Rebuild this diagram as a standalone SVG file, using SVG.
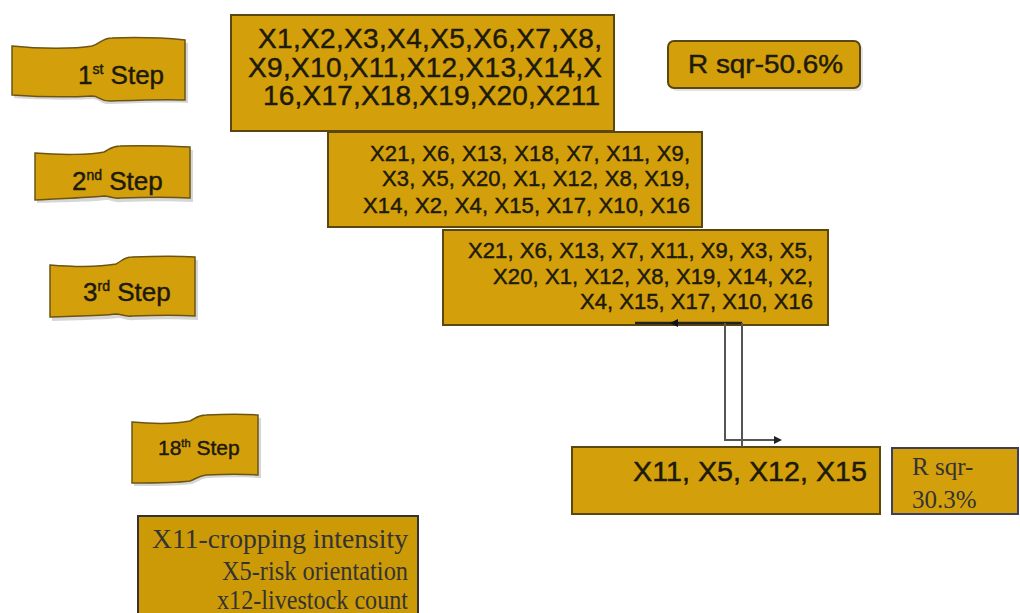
<svg xmlns="http://www.w3.org/2000/svg" width="1020" height="613" viewBox="0 0 1020 613">
<defs>
<style>
.box{fill:#D3A00C;stroke:#5a4710;stroke-width:2}
.flag{fill:#D3A00C;stroke:#6b5414;stroke-width:1.5}
.shadow{fill:#bbbbbb;opacity:0.6}
.sans{font-family:"Liberation Sans",Arial,sans-serif;fill:#1e1a08;stroke:#1e1a08;stroke-width:0.45}
.serif{font-family:"Liberation Serif","Times New Roman",serif;fill:#333333}
.conn{fill:none;stroke:#555555;stroke-width:2}
</style>
<marker id="arr" markerWidth="8" markerHeight="8" refX="6" refY="4" orient="auto" markerUnits="userSpaceOnUse">
<path d="M0,0 L8,4 L0,8 Z" fill="#222"/>
</marker>
</defs>
<rect width="1020" height="613" fill="#ffffff"/>

<g id="step1">
<path class="shadow" d="M14,49 C40,52 75,52 92,49 C100,47 102,41 112,41 C140,40 165,41 188,43 L188,103 C165,102 140,103 112,104 C100,105 100,99 92,99 C75,100 40,100 14,98 Z"/>
<path class="flag" d="M12,46 C40,49 75,49 92,46 C100,44 102,38 112,38 C140,37 165,38 185,40 L185,100 C165,99 140,100 112,101 C100,102 100,96 92,96 C75,97 40,97 12,95 Z"/>
<text class="sans" x="78" y="84" font-size="26" stroke-width="0.6">1<tspan font-size="14" dy="-10">st</tspan><tspan dy="10"> Step</tspan></text>
</g>

<g id="step2">
<path class="shadow" d="M37,156 C60,158 90,158 106,155 C112,152 114,149 122,149 C150,148 170,149 193,150 L193,202 C170,201 150,201 122,202 C114,203 112,200 106,200 C90,202 60,202 37,203 Z"/>
<path class="flag" d="M35,153 C60,155 90,155 104,152 C110,149 112,146 120,146 C150,145 170,146 190,147 L190,198 C170,197 150,197 120,198 C112,199 110,196 104,196 C90,198 60,198 35,200 Z"/>
<text class="sans" x="72" y="190" font-size="26" stroke-width="0.6">2<tspan font-size="14" dy="-10">nd</tspan><tspan dy="10"> Step</tspan></text>
</g>

<g id="step3">
<path class="shadow" d="M52,268 C75,270 100,270 118,267 C124,264 126,260 134,260 C160,259 180,259 198,260 L198,320 C180,319 160,319 134,320 C126,321 124,318 118,318 C100,320 75,320 52,321 Z"/>
<path class="flag" d="M50,265 C75,267 100,267 116,264 C122,261 124,257 132,257 C160,256 180,256 195,257 L195,316 C180,315 160,315 132,316 C124,317 122,314 116,314 C100,316 75,316 50,317 Z"/>
<text class="sans" x="83" y="301" font-size="26" stroke-width="0.6">3<tspan font-size="14" dy="-10">rd</tspan><tspan dy="10"> Step</tspan></text>
</g>

<g id="step18">
<path class="shadow" d="M134,425 C155,427 175,427 192,424 C198,421 200,418 208,418 C225,417 245,417 261,418 L261,478 C245,477 225,477 208,478 C200,479 198,482 192,484 C175,486 155,486 134,486 Z"/>
<path class="flag" d="M132,422 C155,424 175,424 190,421 C196,418 198,415 206,415 C225,414 245,414 258,415 L258,475 C245,474 225,474 206,475 C198,476 196,479 190,481 C175,483 155,483 132,483 Z"/>
<text class="sans" x="158" y="455" font-size="21" stroke-width="0.5">18<tspan font-size="11" dy="-8">th</tspan><tspan dy="8"> Step</tspan></text>
</g>

<g id="box1">
<rect class="box" x="231" y="15" width="383" height="116"/>
<text class="sans" font-size="28" lengthAdjust="spacingAndGlyphs">
<tspan x="258" y="48" textLength="344">X1,X2,X3,X4,X5,X6,X7,X8,</tspan>
<tspan x="248" y="77" textLength="354">X9,X10,X11,X12,X13,X14,X</tspan>
<tspan x="263" y="105" textLength="337">16,X17,X18,X19,X20,X211</tspan>
</text>
</g>

<g id="rsq1">
<rect x="671" y="44" width="192" height="47" rx="6" fill="#c8c8c8" opacity="0.5"/>
<rect class="box" x="668" y="41" width="192" height="47" rx="6"/>
<text class="sans" x="688" y="73" font-size="25" textLength="155" lengthAdjust="spacingAndGlyphs">R sqr-50.6%</text>
</g>

<g id="box2">
<rect class="box" x="328" y="132" width="374" height="95"/>
<text class="sans" font-size="22" lengthAdjust="spacingAndGlyphs">
<tspan x="370" y="161" textLength="320">X21, X6, X13, X18, X7, X11, X9,</tspan>
<tspan x="382" y="186" textLength="308">X3, X5, X20, X1, X12, X8, X19,</tspan>
<tspan x="363" y="213" textLength="327">X14, X2, X4, X15, X17, X10, X16</tspan>
</text>
</g>

<g id="box3">
<rect class="box" x="443" y="230" width="385" height="95"/>
<text class="sans" font-size="22" lengthAdjust="spacingAndGlyphs">
<tspan x="468" y="258" textLength="345">X21, X6, X13, X7, X11, X9, X3, X5,</tspan>
<tspan x="493" y="284" textLength="320">X20, X1, X12, X8, X19, X14, X2,</tspan>
<tspan x="580" y="309" textLength="233">X4, X15, X17, X10, X16</tspan>
</text>
</g>

<g id="box4">
<rect class="box" x="572" y="447" width="308" height="67"/>
<text class="sans" x="633" y="481" font-size="27" textLength="234" lengthAdjust="spacingAndGlyphs">X11, X5, X12, X15</text>
</g>

<g id="rsq2">
<rect x="892" y="448" width="126" height="66" fill="#D3A00C" stroke="#3b3f5c" stroke-width="2"/>
<text class="serif" font-size="25">
<tspan x="912" y="475">R sqr-</tspan>
<tspan x="912" y="508">30.3%</tspan>
</text>
</g>

<g id="legend">
<rect x="138" y="516" width="280" height="100" fill="#CC9A06" stroke="#333333" stroke-width="2"/>
<text class="serif" font-size="27" x="152" y="548" textLength="256" lengthAdjust="spacingAndGlyphs">X11-cropping intensity</text>
<text class="serif" font-size="27" x="222" y="580" textLength="186" lengthAdjust="spacingAndGlyphs">X5-risk orientation</text>
<text class="serif" font-size="27" x="217" y="609" textLength="191" lengthAdjust="spacingAndGlyphs">x12-livestock count</text>
</g>

<g id="connectors">
<line x1="742" y1="323" x2="635" y2="323" stroke="#222" stroke-width="2.5"/>
<path d="M678,319 L670,323 L678,327 Z" fill="#111"/>
<path class="conn" d="M742,323 L742,447"/>
<path class="conn" d="M725,323 L725,440 L780,440" marker-end="url(#arr)"/>
</g>
</svg>
